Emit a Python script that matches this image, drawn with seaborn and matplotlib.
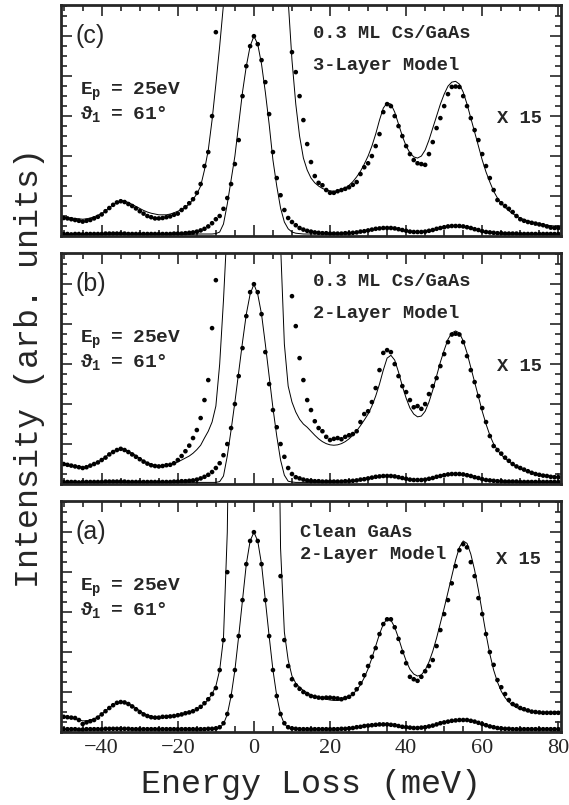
import numpy as np
import matplotlib
matplotlib.use('Agg')
import matplotlib.pyplot as plt
import seaborn as sns
from matplotlib.ticker import MultipleLocator

# energy loss grid (meV), one point per meV from -50 to 80
energy = np.arange(-50, 81)

# ---- panel (c): 0.3 ML Cs/GaAs, 3-layer model ----
c_x15_dots = [
    0.45, 0.44, 0.42, 0.40, 0.38, 0.36, 0.38, 0.40, 0.44, 0.48,
    0.54, 0.62, 0.70, 0.78, 0.84, 0.87, 0.85, 0.80, 0.75, 0.69,
    0.62, 0.56, 0.50, 0.47, 0.44, 0.44, 0.45, 0.47, 0.49, 0.53,
    0.56, 0.65, 0.72, 0.82, 0.92, 1.08, 1.30, 1.75, 2.10, 3.00,
    5.10, 7.00, 10.0, 14.0, 20.0, 30.0, 40.0, 55.0, 65.0, 72.0,
    75.0, 72.0, 65.0, 55.0, 40.0, 30.0, 20.0, 13.0, 9.00, 6.50,
    4.60, 4.10, 3.50, 2.90, 2.30, 1.85, 1.50, 1.33, 1.27, 1.15,
    1.08, 1.08, 1.12, 1.15, 1.18, 1.22, 1.28, 1.35, 1.55, 1.72,
    1.82, 2.00, 2.25, 2.55, 3.10, 3.30, 3.25, 3.00, 2.75, 2.50,
    2.25, 2.05, 1.90, 1.82, 1.80, 1.78, 2.05, 2.35, 2.70, 2.95,
    3.25, 3.55, 3.73, 3.74, 3.73, 3.50, 3.25, 2.95, 2.65, 2.40,
    2.05, 1.75, 1.45, 1.15, 0.90, 0.82, 0.75, 0.68, 0.60, 0.50,
    0.42, 0.38, 0.35, 0.33, 0.31, 0.29, 0.27, 0.24, 0.21, 0.20, 0.20]
c_x15_model = [
    0.47, 0.46, 0.45, 0.44, 0.43, 0.42, 0.43, 0.45, 0.48, 0.52,
    0.56, 0.63, 0.71, 0.78, 0.84, 0.88, 0.87, 0.84, 0.79, 0.74,
    0.69, 0.64, 0.60, 0.57, 0.55, 0.53, 0.53, 0.53, 0.55, 0.58,
    0.62, 0.66, 0.72, 0.80, 0.92, 1.05, 1.25, 1.65, 2.15, 2.90,
    3.80, 4.75, 5.80, 7.50, 10.0, 15.0, 25.0, 40.0, 60.0, 72.0,
    75.0, 72.0, 60.0, 40.0, 25.0, 16.0, 11.0, 8.50, 7.00, 5.90,
    4.40, 3.30, 2.50, 1.95, 1.65, 1.45, 1.33, 1.25, 1.19, 1.15,
    1.13, 1.12, 1.13, 1.16, 1.20, 1.27, 1.36, 1.48, 1.62, 1.80,
    2.00, 2.25, 2.55, 2.90, 3.20, 3.33, 3.30, 3.10, 2.80, 2.50,
    2.25, 2.08, 1.98, 1.95, 2.00, 2.15, 2.40, 2.70, 3.00, 3.30,
    3.55, 3.75, 3.85, 3.87, 3.80, 3.60, 3.30, 2.95, 2.60, 2.25,
    1.90, 1.60, 1.35, 1.12, 0.95, 0.82, 0.72, 0.63, 0.56, 0.50,
    0.45, 0.41, 0.38, 0.35, 0.33, 0.31, 0.29, 0.27, 0.26, 0.25, 0.24]
c_x1_dots = [
    0.05, 0.05, 0.04, 0.05, 0.05, 0.04, 0.05, 0.05, 0.05, 0.05,
    0.05, 0.06, 0.06, 0.06, 0.06, 0.06, 0.06, 0.05, 0.05, 0.05,
    0.05, 0.05, 0.05, 0.05, 0.05, 0.05, 0.05, 0.05, 0.05, 0.06,
    0.06, 0.06, 0.07, 0.08, 0.09, 0.11, 0.14, 0.18, 0.24, 0.32,
    0.42, 0.50, 0.68, 0.95, 1.30, 1.80, 2.40, 3.50, 4.25, 4.75,
    5.00, 4.80, 4.40, 3.85, 3.05, 2.10, 1.45, 1.02, 0.65, 0.45,
    0.35, 0.27, 0.20, 0.16, 0.13, 0.11, 0.09, 0.08, 0.07, 0.07,
    0.06, 0.06, 0.06, 0.06, 0.07, 0.07, 0.08, 0.09, 0.11, 0.12,
    0.14, 0.16, 0.18, 0.19, 0.20, 0.20, 0.20, 0.19, 0.17, 0.15,
    0.13, 0.11, 0.10, 0.10, 0.10, 0.11, 0.13, 0.15, 0.18, 0.20,
    0.22, 0.24, 0.25, 0.25, 0.25, 0.24, 0.22, 0.20, 0.17, 0.15,
    0.12, 0.10, 0.09, 0.08, 0.07, 0.07, 0.06, 0.06, 0.06, 0.06,
    0.05, 0.05, 0.05, 0.05, 0.05, 0.05, 0.05, 0.05, 0.05, 0.05, 0.05]
c_x1_model = [
    0.04, 0.04, 0.04, 0.04, 0.04, 0.04, 0.04, 0.04, 0.04, 0.04,
    0.04, 0.04, 0.04, 0.04, 0.04, 0.04, 0.04, 0.04, 0.04, 0.04,
    0.04, 0.04, 0.04, 0.04, 0.04, 0.04, 0.04, 0.04, 0.04, 0.04,
    0.04, 0.04, 0.04, 0.04, 0.04, 0.05, 0.05, 0.05, 0.05, 0.05,
    0.06, 0.10, 0.30, 0.80, 1.40, 2.00, 2.80, 3.60, 4.25, 4.75,
    5.00, 4.80, 4.30, 3.60, 2.80, 1.90, 1.25, 0.70, 0.35, 0.18,
    0.10, 0.07, 0.06, 0.05, 0.05, 0.05, 0.05, 0.05, 0.05, 0.05,
    0.05, 0.05, 0.05, 0.05, 0.06, 0.06, 0.07, 0.08, 0.10, 0.11,
    0.13, 0.15, 0.17, 0.18, 0.19, 0.19, 0.19, 0.18, 0.16, 0.14,
    0.12, 0.10, 0.09, 0.09, 0.09, 0.10, 0.12, 0.14, 0.17, 0.19,
    0.21, 0.23, 0.24, 0.24, 0.24, 0.23, 0.21, 0.19, 0.16, 0.14,
    0.11, 0.09, 0.08, 0.07, 0.06, 0.06, 0.05, 0.05, 0.05, 0.05,
    0.05, 0.05, 0.05, 0.05, 0.05, 0.05, 0.05, 0.05, 0.05, 0.05, 0.05]

# ---- panel (b): 0.3 ML Cs/GaAs, 2-layer model ----
b_x15_dots = [
    0.50, 0.48, 0.46, 0.44, 0.42, 0.40, 0.42, 0.46, 0.50, 0.54,
    0.60, 0.66, 0.74, 0.80, 0.85, 0.88, 0.85, 0.80, 0.74, 0.68,
    0.62, 0.56, 0.51, 0.47, 0.45, 0.44, 0.45, 0.47, 0.48, 0.52,
    0.60, 0.70, 0.82, 0.96, 1.15, 1.35, 1.65, 2.10, 2.60, 3.90,
    5.10, 7.00, 10.0, 14.0, 20.0, 30.0, 40.0, 55.0, 65.0, 72.0,
    75.0, 72.0, 65.0, 55.0, 40.0, 30.0, 20.0, 13.0, 9.00, 6.50,
    4.70, 3.95, 3.15, 2.60, 2.10, 1.85, 1.57, 1.40, 1.32, 1.18,
    1.10, 1.13, 1.15, 1.12, 1.18, 1.22, 1.25, 1.32, 1.55, 1.75,
    1.82, 2.05, 2.40, 2.85, 3.28, 3.35, 3.30, 3.00, 2.70, 2.45,
    2.30, 2.10, 1.92, 1.95, 1.88, 2.00, 2.25, 2.45, 2.65, 2.95,
    3.25, 3.55, 3.74, 3.76, 3.74, 3.55, 3.20, 2.85, 2.55, 2.20,
    1.90, 1.55, 1.20, 0.95, 0.85, 0.76, 0.66, 0.58, 0.50, 0.44,
    0.40, 0.36, 0.32, 0.28, 0.25, 0.23, 0.21, 0.20, 0.18, 0.17, 0.17]
b_x15_model = [
    0.48, 0.46, 0.45, 0.44, 0.43, 0.42, 0.43, 0.46, 0.50, 0.55,
    0.61, 0.68, 0.75, 0.81, 0.86, 0.88, 0.86, 0.82, 0.77, 0.71,
    0.64, 0.58, 0.53, 0.49, 0.47, 0.46, 0.46, 0.47, 0.49, 0.51,
    0.55, 0.60, 0.65, 0.70, 0.77, 0.86, 0.97, 1.15, 1.32, 1.55,
    1.95, 3.00, 4.60, 6.50, 10.0, 18.0, 30.0, 45.0, 62.0, 72.0,
    75.0, 72.0, 62.0, 45.0, 30.0, 18.0, 10.0, 6.00, 3.50, 2.45,
    2.05, 1.80, 1.62, 1.50, 1.42, 1.32, 1.22, 1.13, 1.06, 1.01,
    0.98, 0.97, 0.98, 1.01, 1.06, 1.13, 1.22, 1.33, 1.46, 1.60,
    1.75, 1.95, 2.20, 2.50, 2.85, 3.15, 3.22, 3.10, 2.80, 2.45,
    2.15, 1.90, 1.75, 1.68, 1.70, 1.82, 2.05, 2.35, 2.70, 3.05,
    3.35, 3.62, 3.78, 3.83, 3.78, 3.58, 3.28, 2.92, 2.55, 2.18,
    1.82, 1.50, 1.22, 1.00, 0.85, 0.73, 0.64, 0.56, 0.49, 0.43,
    0.38, 0.34, 0.31, 0.28, 0.26, 0.24, 0.22, 0.21, 0.20, 0.19, 0.18]
b_x1_dots = [
    0.05, 0.05, 0.05, 0.05, 0.04, 0.05, 0.05, 0.05, 0.05, 0.05,
    0.05, 0.06, 0.06, 0.06, 0.06, 0.06, 0.06, 0.05, 0.05, 0.05,
    0.05, 0.05, 0.05, 0.05, 0.05, 0.05, 0.05, 0.05, 0.05, 0.06,
    0.06, 0.07, 0.07, 0.08, 0.09, 0.11, 0.14, 0.18, 0.23, 0.30,
    0.40, 0.52, 0.72, 1.00, 1.40, 2.00, 2.70, 3.40, 4.20, 4.80,
    5.00, 4.80, 4.25, 3.30, 2.50, 1.85, 1.42, 1.00, 0.68, 0.40,
    0.25, 0.17, 0.14, 0.11, 0.09, 0.08, 0.07, 0.07, 0.06, 0.06,
    0.06, 0.06, 0.06, 0.06, 0.07, 0.07, 0.08, 0.09, 0.11, 0.12,
    0.14, 0.16, 0.18, 0.19, 0.20, 0.20, 0.20, 0.19, 0.17, 0.15,
    0.13, 0.11, 0.10, 0.10, 0.10, 0.11, 0.13, 0.15, 0.18, 0.20,
    0.22, 0.24, 0.25, 0.25, 0.25, 0.24, 0.22, 0.20, 0.17, 0.15,
    0.12, 0.10, 0.09, 0.08, 0.07, 0.07, 0.06, 0.06, 0.06, 0.06,
    0.05, 0.05, 0.05, 0.05, 0.05, 0.05, 0.05, 0.05, 0.05, 0.05, 0.05]
b_x1_model = [
    0.04, 0.04, 0.04, 0.04, 0.04, 0.04, 0.04, 0.04, 0.04, 0.04,
    0.04, 0.04, 0.04, 0.04, 0.04, 0.04, 0.04, 0.04, 0.04, 0.04,
    0.04, 0.04, 0.04, 0.04, 0.04, 0.04, 0.04, 0.04, 0.04, 0.04,
    0.04, 0.04, 0.04, 0.04, 0.04, 0.04, 0.04, 0.04, 0.04, 0.04,
    0.04, 0.06, 0.20, 0.70, 1.35, 2.05, 2.80, 3.55, 4.25, 4.75,
    5.00, 4.75, 4.25, 3.50, 2.70, 1.90, 1.20, 0.60, 0.22, 0.07,
    0.05, 0.04, 0.04, 0.04, 0.04, 0.04, 0.04, 0.04, 0.04, 0.05,
    0.05, 0.05, 0.05, 0.05, 0.06, 0.06, 0.07, 0.08, 0.10, 0.11,
    0.13, 0.15, 0.17, 0.18, 0.19, 0.19, 0.19, 0.18, 0.16, 0.14,
    0.12, 0.10, 0.09, 0.09, 0.09, 0.10, 0.12, 0.14, 0.17, 0.19,
    0.21, 0.23, 0.24, 0.24, 0.24, 0.23, 0.21, 0.19, 0.16, 0.14,
    0.11, 0.09, 0.08, 0.07, 0.06, 0.06, 0.05, 0.05, 0.05, 0.05,
    0.05, 0.05, 0.05, 0.05, 0.05, 0.05, 0.05, 0.05, 0.05, 0.05, 0.05]

# ---- panel (a): clean GaAs, 2-layer model ----
a_x15_dots = [
    0.38, 0.37, 0.36, 0.35, 0.30, 0.20, 0.24, 0.27, 0.30, 0.36,
    0.44, 0.52, 0.60, 0.67, 0.73, 0.75, 0.74, 0.70, 0.64, 0.57,
    0.50, 0.44, 0.40, 0.37, 0.36, 0.36, 0.38, 0.38, 0.39, 0.40,
    0.42, 0.44, 0.47, 0.49, 0.52, 0.57, 0.63, 0.72, 0.82, 0.95,
    1.10, 1.55, 2.30, 4.00, 7.50, 15.0, 30.0, 45.0, 60.0, 70.0,
    75.0, 70.0, 60.0, 45.0, 30.0, 15.0, 7.50, 3.90, 2.30, 1.65,
    1.32, 1.17, 1.08, 1.00, 0.95, 0.90, 0.88, 0.86, 0.85, 0.86,
    0.86, 0.85, 0.84, 0.82, 0.85, 0.88, 0.95, 1.07, 1.22, 1.42,
    1.65, 1.88, 2.10, 2.45, 2.70, 2.82, 2.82, 2.62, 2.33, 2.00,
    1.72, 1.38, 1.32, 1.28, 1.38, 1.52, 1.65, 1.80, 2.15, 2.55,
    2.95, 3.30, 3.72, 4.15, 4.55, 4.70, 4.62, 4.25, 3.90, 3.35,
    2.95, 2.45, 2.00, 1.68, 1.30, 1.12, 0.95, 0.80, 0.70, 0.66,
    0.60, 0.57, 0.54, 0.51, 0.50, 0.49, 0.48, 0.48, 0.48, 0.48, 0.48]
a_x15_model = [
    0.38, 0.37, 0.35, 0.33, 0.30, 0.28, 0.28, 0.30, 0.33, 0.38,
    0.45, 0.53, 0.61, 0.68, 0.73, 0.75, 0.74, 0.71, 0.66, 0.60,
    0.53, 0.47, 0.42, 0.39, 0.37, 0.36, 0.36, 0.37, 0.38, 0.40,
    0.42, 0.44, 0.46, 0.49, 0.52, 0.57, 0.63, 0.71, 0.81, 0.95,
    1.15, 1.55, 2.35, 5.00, 12.0, 25.0, 42.0, 58.0, 68.0, 73.0,
    75.0, 73.0, 68.0, 58.0, 42.0, 25.0, 12.0, 4.60, 2.50, 1.80,
    1.40, 1.22, 1.12, 1.04, 0.98, 0.93, 0.89, 0.86, 0.84, 0.82,
    0.80, 0.79, 0.79, 0.80, 0.83, 0.88, 0.95, 1.05, 1.18, 1.36,
    1.58, 1.85, 2.15, 2.45, 2.70, 2.83, 2.80, 2.62, 2.35, 2.05,
    1.78, 1.57, 1.45, 1.40, 1.43, 1.55, 1.75, 2.02, 2.35, 2.72,
    3.10, 3.50, 3.90, 4.30, 4.62, 4.78, 4.72, 4.45, 4.05, 3.55,
    3.00, 2.45, 1.95, 1.55, 1.25, 1.02, 0.86, 0.75, 0.67, 0.61,
    0.57, 0.54, 0.52, 0.50, 0.49, 0.48, 0.47, 0.47, 0.46, 0.46, 0.46]
a_x1_dots = [
    0.07, 0.07, 0.07, 0.07, 0.06, 0.06, 0.07, 0.07, 0.07, 0.07,
    0.07, 0.08, 0.08, 0.08, 0.08, 0.08, 0.08, 0.08, 0.07, 0.07,
    0.07, 0.07, 0.07, 0.07, 0.07, 0.07, 0.07, 0.07, 0.07, 0.07,
    0.07, 0.07, 0.07, 0.07, 0.07, 0.07, 0.07, 0.07, 0.08, 0.08,
    0.09, 0.12, 0.22, 0.45, 0.90, 1.55, 2.40, 3.30, 4.20, 4.78,
    5.00, 4.78, 4.20, 3.30, 2.40, 1.55, 0.90, 0.45, 0.22, 0.12,
    0.09, 0.08, 0.07, 0.07, 0.07, 0.07, 0.07, 0.07, 0.07, 0.07,
    0.07, 0.07, 0.07, 0.08, 0.08, 0.09, 0.10, 0.12, 0.13, 0.15,
    0.16, 0.17, 0.18, 0.19, 0.19, 0.19, 0.18, 0.17, 0.15, 0.13,
    0.12, 0.11, 0.10, 0.10, 0.11, 0.12, 0.14, 0.16, 0.19, 0.22,
    0.24, 0.26, 0.28, 0.29, 0.30, 0.30, 0.30, 0.28, 0.26, 0.23,
    0.20, 0.17, 0.14, 0.12, 0.10, 0.09, 0.08, 0.08, 0.07, 0.07,
    0.07, 0.07, 0.07, 0.07, 0.07, 0.07, 0.07, 0.07, 0.07, 0.07, 0.07]
a_x1_model = [
    0.06, 0.06, 0.06, 0.06, 0.06, 0.06, 0.06, 0.06, 0.06, 0.06,
    0.06, 0.07, 0.07, 0.07, 0.07, 0.07, 0.07, 0.07, 0.06, 0.06,
    0.06, 0.06, 0.06, 0.06, 0.06, 0.06, 0.06, 0.06, 0.06, 0.06,
    0.06, 0.06, 0.06, 0.06, 0.06, 0.06, 0.06, 0.06, 0.07, 0.07,
    0.08, 0.11, 0.20, 0.44, 0.90, 1.55, 2.40, 3.30, 4.20, 4.78,
    5.00, 4.78, 4.20, 3.30, 2.40, 1.55, 0.90, 0.44, 0.20, 0.11,
    0.08, 0.07, 0.06, 0.06, 0.06, 0.06, 0.06, 0.06, 0.06, 0.06,
    0.06, 0.06, 0.06, 0.07, 0.07, 0.08, 0.09, 0.11, 0.12, 0.14,
    0.15, 0.16, 0.17, 0.18, 0.18, 0.18, 0.17, 0.16, 0.14, 0.12,
    0.11, 0.10, 0.09, 0.09, 0.10, 0.11, 0.13, 0.15, 0.18, 0.21,
    0.23, 0.25, 0.27, 0.28, 0.29, 0.29, 0.29, 0.27, 0.25, 0.22,
    0.19, 0.16, 0.13, 0.11, 0.09, 0.08, 0.07, 0.07, 0.06, 0.06,
    0.06, 0.06, 0.06, 0.06, 0.06, 0.06, 0.06, 0.06, 0.06, 0.06, 0.06]

panel_tags = ['(c)', '(b)', '(a)']
sample_lines = [('0.3 ML Cs/GaAs', '3-Layer Model'),
                ('0.3 ML Cs/GaAs', '2-Layer Model'),
                ('Clean GaAs', '2-Layer Model')]

sns.set_style('ticks')
plt.rcParams['font.family'] = ['Liberation Serif', 'DejaVu Serif']
plt.rcParams['mathtext.fontset'] = 'custom'
plt.rcParams['mathtext.rm'] = 'Liberation Mono:bold'
plt.rcParams['mathtext.it'] = 'Liberation Mono:bold'
plt.rcParams['mathtext.bf'] = 'Liberation Mono:bold'

fig = plt.figure(figsize=(5.69, 8.05), dpi=100)
W, H = 569.0, 805.0
ax_left, ax_w, ax_h = 61 / W, 500 / W, 231 / H
bottoms = [1 - 236 / H, 1 - 484 / H, 1 - 732 / H]

series = [
    (c_x15_dots, c_x15_model, c_x1_dots, c_x1_model),
    (b_x15_dots, b_x15_model, b_x1_dots, b_x1_model),
    (a_x15_dots, a_x15_model, a_x1_dots, a_x1_model),
]

mono_bold = dict(family=['Liberation Mono', 'DejaVu Sans Mono'], fontweight='bold', fontsize=13.5)

for i, (dots15, model15, dots1, model1) in enumerate(series):
    ax = fig.add_axes([ax_left, bottoms[i], ax_w, ax_h])
    for model in (model15, model1):
        sns.lineplot(x=energy, y=model, ax=ax, color='black', linewidth=0.7,
                     estimator=None, sort=False)
    for dots in (dots15, dots1):
        sns.scatterplot(x=energy, y=dots, ax=ax, color='black', s=11,
                        edgecolor='none', linewidth=0)

    ax.set_xlim(-50.7, 80.7)
    ax.set_ylim(0, 5.78)
    ax.xaxis.set_major_locator(MultipleLocator(20))
    ax.xaxis.set_minor_locator(MultipleLocator(5))
    ax.yaxis.set_major_locator(MultipleLocator(1))
    ax.yaxis.set_minor_locator(MultipleLocator(0.25))
    ax.tick_params(which='both', direction='in', top=True, right=True,
                   width=1.2, labelleft=False)
    ax.tick_params(which='major', length=8)
    ax.tick_params(which='minor', length=4)
    ax.tick_params(axis='x', labelsize=16, pad=5)
    if i < 2:
        ax.tick_params(labelbottom=False)
    for sp in ax.spines.values():
        sp.set_linewidth(2.0)
    ax.set_xlabel('')
    ax.set_ylabel('')

    # annotations
    ax.text(-47.0, 5.0, panel_tags[i], ha='left', va='center', fontsize=18,
            family=['Liberation Sans', 'DejaVu Sans'])
    ax.text(-45.7, 3.6, r'$\mathrm{E_p\ \ =\ \ 25eV}$', ha='left', va='center',
            fontsize=14)
    ax.text(-45.7, 3.05, r'$\mathrm{\vartheta_1\ \ =\ \ 61°}$', ha='left',
            va='center', fontsize=14)
    if i < 2:
        ax.text(15.5, 5.07, sample_lines[i][0], ha='left', va='center', **mono_bold)
        ax.text(15.5, 4.27, sample_lines[i][1], ha='left', va='center', **mono_bold)
        ax.text(63.9, 2.95, 'X 15', ha='left', va='center', **mono_bold)
    else:
        ax.text(12.1, 4.98, sample_lines[i][0], ha='left', va='center', **mono_bold)
        ax.text(12.1, 4.44, sample_lines[i][1], ha='left', va='center', **mono_bold)
        ax.text(63.6, 4.32, 'X 15', ha='left', va='center', **mono_bold)

fig.text(311 / W, 1 - 784 / H, 'Energy Loss (meV)', ha='center', va='center',
         fontsize=24, family=['Liberation Mono', 'DejaVu Sans Mono'])
fig.text(30 / W, 1 - 368 / H, 'Intensity (arb. units)', ha='center', va='center',
         rotation=90, fontsize=24, family=['Liberation Mono', 'DejaVu Sans Mono'])

fig.savefig('out.png', dpi=100)
